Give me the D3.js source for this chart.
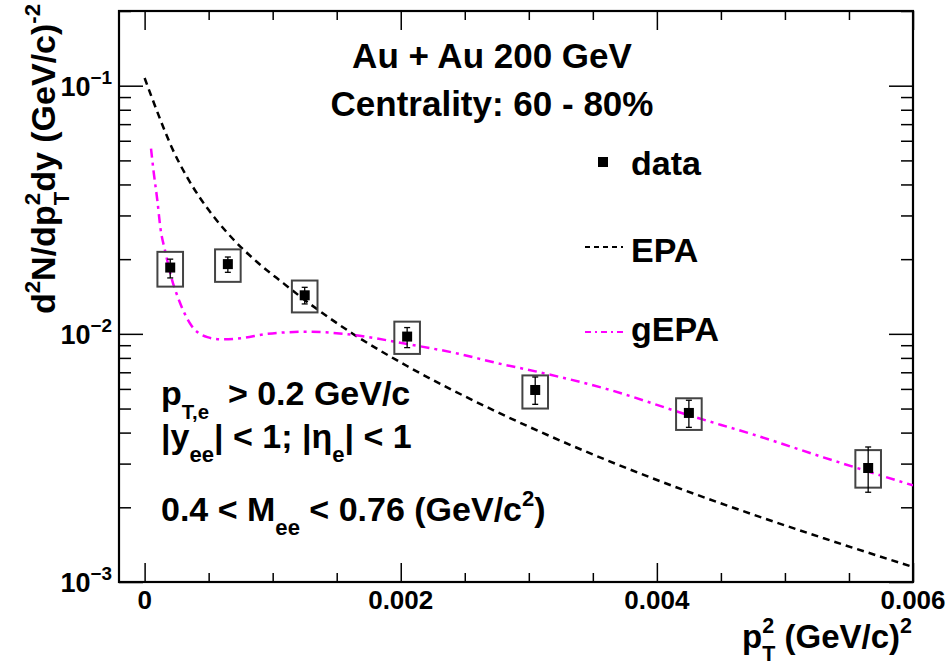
<!DOCTYPE html>
<html lang="en">
<head>
  <meta charset="UTF-8">
  <title>Au+Au 200 GeV pT2 spectrum</title>
  <script src="https://d3js.org/d3.v7.min.js"></script>
  <style>
    body { margin: 0; background: #fff; }
    svg text {
      font-family: "Liberation Sans", Arial, Helvetica, sans-serif;
      font-weight: bold;
      fill: #000;
      white-space: pre;
    }
    .tick line { stroke: #000; stroke-width: 1.5px; }
  </style>
</head>
<body>
  <svg width="947" height="665"></svg>

  <script>
    // data points (pT^2 in (GeV/c)^2)
    const ptSq   = [0.0002, 0.00065, 0.00125, 0.00205, 0.00305, 0.00425, 0.00565];
    const yields = [0.0185, 0.0191, 0.0143, 0.00975, 0.00594, 0.0048, 0.00288];
    const statLo = [0.0168, 0.0177, 0.0132, 0.0088, 0.0052, 0.0042, 0.0023];
    const statHi = [0.0200, 0.0204, 0.0154, 0.0106, 0.0067, 0.0054, 0.0035];
    const sysLo  = [0.0155, 0.0162, 0.0122, 0.0083, 0.0050, 0.0041, 0.0024];
    const sysHi  = [0.0214, 0.0219, 0.0164, 0.0112, 0.0068, 0.0055, 0.0034];

    // model curves
    const epaX = [0, 0.000058, 0.000136, 0.000214, 0.000331, 0.000433, 0.000542, 0.00069, 0.000878, 0.001081,
                  0.001292, 0.001628, 0.002049, 0.002721, 0.003345, 0.004001, 0.004649, 0.005297, 0.006];
    const epaY = [0.1074, 0.0892, 0.0701, 0.0561, 0.04286, 0.03527, 0.02957, 0.02411, 0.01948, 0.01603,
                  0.01319, 0.00999, 0.00742, 0.00493, 0.00353, 0.002576, 0.00195, 0.001504, 0.00115];
    const gepaX = [0.00005, 0.00007, 0.0001, 0.000123, 0.00016, 0.00021, 0.00027, 0.00036, 0.00049, 0.0006,
                   0.00075, 0.00096, 0.00127, 0.00163, 0.00205, 0.00244, 0.00273, 0.00309, 0.00361, 0.00426,
                   0.00478, 0.0053, 0.006];
    const gepaY = [0.0558, 0.0452, 0.0343, 0.0268, 0.0216, 0.0168, 0.0136, 0.0109, 0.0097, 0.0095,
                   0.0096, 0.0100, 0.0102, 0.0099, 0.0091, 0.00834, 0.00767, 0.00699, 0.00599, 0.00468,
                   0.00389, 0.00318, 0.00245];

    const xMajor = [0, 0.002, 0.004, 0.006];
    const xLabels = ["0", "0.002", "0.004", "0.006"];
    const yMajor = [0.001, 0.01, 0.1];
    const yExp = ["\u22123", "\u22122", "\u22121"];

    const width = 947, height = 665;
    const margin = {top: 11, right: 34, bottom: 83, left: 119};
    const W = width - margin.left - margin.right;
    const H = height - margin.top - margin.bottom;

    const svg = d3.select("svg");
    const g = svg.append("g").attr("transform", `translate(${margin.left},${margin.top})`);

    const x = d3.scaleLinear().domain([-0.0002, 0.006]).range([0, W]);
    const y = d3.scaleLog().domain([0.001, 0.2]).range([H, 0]);

    const xMinor = d3.range(0, 0.00601, 0.0005).filter(v => Math.abs(v / 0.002 - Math.round(v / 0.002)) > 1e-6);
    const yMinor = [];
    [0.001, 0.01, 0.1].forEach(d => d3.range(2, 10).forEach(k => { if (k * d <= 0.2) yMinor.push(k * d); }));

    // ticks, all pointing inward (ROOT style)
    function ticks(axis, vals, len, tr) {
      const a = g.append("g").attr("transform", tr)
        .call(axis.tickValues(vals).tickSize(-len).tickFormat(""));
      a.select(".domain").remove();
      return a;
    }
    ticks(d3.axisBottom(x), xMajor, 19, `translate(0,${H})`);
    ticks(d3.axisBottom(x), xMinor, 9, `translate(0,${H})`);
    ticks(d3.axisTop(x), xMajor, 19, "translate(0,0)");
    ticks(d3.axisTop(x), xMinor, 9, "translate(0,0)");
    ticks(d3.axisLeft(y), yMajor, 24, "translate(0,0)");
    ticks(d3.axisLeft(y), yMinor, 12, "translate(0,0)");
    ticks(d3.axisRight(y), yMajor, 24, `translate(${W},0)`);
    ticks(d3.axisRight(y), yMinor, 12, `translate(${W},0)`);

    g.append("rect").attr("width", W).attr("height", H)
      .attr("fill", "none").attr("stroke", "#000").attr("stroke-width", 2.2);

    // x tick labels
    g.selectAll(".xlab").data(xMajor).enter().append("text")
      .attr("class", "xlab")
      .attr("x", d => x(d)).attr("y", H + 27)
      .attr("text-anchor", "middle").attr("font-size", 26)
      .text((d, i) => xLabels[i]);

    // text with sub/superscripts laid out piece by piece
    function rich(parent, parts, size) {
      const t = parent.append("g");
      let cx = 0, lastStart = 0;
      parts.forEach(p => {
        const px = p.stack ? lastStart : cx;
        const el = t.append("text")
          .attr("font-size", size * (p.s || 1))
          .attr("x", px).attr("y", (p.dy || 0) * size)
          .text(p.t);
        const w = el.node().getComputedTextLength();
        if (p.stack) cx = Math.max(cx, px + w);
        else { lastStart = px; cx = px + w; }
      });
      return {g: t, w: cx};
    }
    const sup = (t) => ({t, s: 0.65, dy: -0.45});
    const sub = (t) => ({t, s: 0.65, dy: 0.4});

    function place(parts, size, px, py, anchor) {
      const r = rich(svg, parts, size);
      const off = anchor === "end" ? r.w : anchor === "middle" ? r.w / 2 : 0;
      r.g.attr("transform", `translate(${px - off},${py})`);
      return r;
    }

    // y tick labels
    yMajor.forEach((v, i) => {
      place([{t: "10"}, Object.assign(sup(yExp[i]), {s: 0.7})], 27, margin.left - 7, margin.top + y(v) + 10, "end");
    });

    // axis titles
    place([{t: "p"}, sub("T"), Object.assign(sup("2"), {stack: true}), {t: " (GeV/c)"}, sup("2")],
      33, 912, 648, "end");

    const yt = rich(svg, [{t: "d"}, sup("2"), {t: "N/dp"}, sub("T"), Object.assign(sup("2"), {stack: true}),
      {t: "dy (GeV/c)"}, sup("-2")], 34);
    yt.g.attr("transform", `translate(55,4) rotate(-90) translate(${-yt.w},0)`);

    // plot content clipped to frame
    svg.append("defs").append("clipPath").attr("id", "clip")
      .append("rect").attr("width", W).attr("height", H);
    const plot = g.append("g").attr("clip-path", "url(#clip)");

    const line = d3.line().x(d => x(d[0])).y(d => y(d[1])).curve(d3.curveMonotoneX);

    plot.append("path")
      .datum(d3.zip(epaX, epaY))
      .attr("d", line)
      .attr("fill", "none").attr("stroke", "#000")
      .attr("stroke-width", 2.5).attr("stroke-dasharray", "7,5");

    plot.append("path")
      .datum(d3.zip(gepaX, gepaY))
      .attr("d", line)
      .attr("fill", "none").attr("stroke", "#ff00ff")
      .attr("stroke-width", 2.5).attr("stroke-dasharray", "9,5,3,5");

    // systematic boxes
    const pts = ptSq.map((v, i) => ({x: v, y: yields[i], lo: statLo[i], hi: statHi[i], slo: sysLo[i], shi: sysHi[i]}));
    const boxHalf = 0.0001;
    plot.selectAll(".sys").data(pts).enter().append("rect")
      .attr("x", d => x(d.x - boxHalf))
      .attr("width", d => x(d.x + boxHalf) - x(d.x - boxHalf))
      .attr("y", d => y(d.shi))
      .attr("height", d => y(d.slo) - y(d.shi))
      .attr("fill", "none").attr("stroke", "#444").attr("stroke-width", 2);

    // statistical error bars
    const bars = plot.selectAll(".err").data(pts).enter().append("g");
    bars.append("line")
      .attr("x1", d => x(d.x)).attr("x2", d => x(d.x))
      .attr("y1", d => y(d.hi)).attr("y2", d => y(d.lo))
      .attr("stroke", "#000").attr("stroke-width", 1.3);
    [d => d.hi, d => d.lo].forEach(f => {
      bars.append("line")
        .attr("x1", d => x(d.x) - 3).attr("x2", d => x(d.x) + 3)
        .attr("y1", d => y(f(d))).attr("y2", d => y(f(d)))
        .attr("stroke", "#000").attr("stroke-width", 1.3);
    });
    plot.selectAll(".mark").data(pts).enter().append("rect")
      .attr("x", d => x(d.x) - 5).attr("y", d => y(d.y) - 5)
      .attr("width", 10).attr("height", 10).attr("fill", "#000");

    // header text
    place([{t: "Au + Au 200 GeV"}], 35, 492, 68, "middle");
    place([{t: "Centrality: 60 - 80%"}], 35, 492, 116, "middle");

    // legend
    svg.append("rect").attr("x", 598).attr("y", 157).attr("width", 10).attr("height", 10).attr("fill", "#000");
    place([{t: "data"}], 34, 631, 175, "start");
    svg.append("line").attr("x1", 585).attr("x2", 623).attr("y1", 247).attr("y2", 247)
      .attr("stroke", "#000").attr("stroke-width", 2).attr("stroke-dasharray", "5,4");
    place([{t: "EPA"}], 34, 631, 262, "start");
    svg.append("line").attr("x1", 585).attr("x2", 623).attr("y1", 332).attr("y2", 332)
      .attr("stroke", "#ff00ff").attr("stroke-width", 2).attr("stroke-dasharray", "6,4,2,4");
    place([{t: "gEPA"}], 34, 631, 341, "start");

    // cuts
    place([{t: "p"}, {t: "T,e", s: 0.6, dy: 0.42}, {t: "  > 0.2 GeV/c"}], 34, 161, 405, "start");
    place([{t: "|y"}, sub("ee"), {t: "| < 1; |\u03b7"}, sub("e"), {t: "| < 1"}], 34, 161, 448, "start");
    place([{t: "0.4 < M"}, sub("ee"), {t: " < 0.76 (GeV/c"}, sup("2"), {t: ")"}], 34, 161, 521, "start");
  </script>
</body>
</html>
